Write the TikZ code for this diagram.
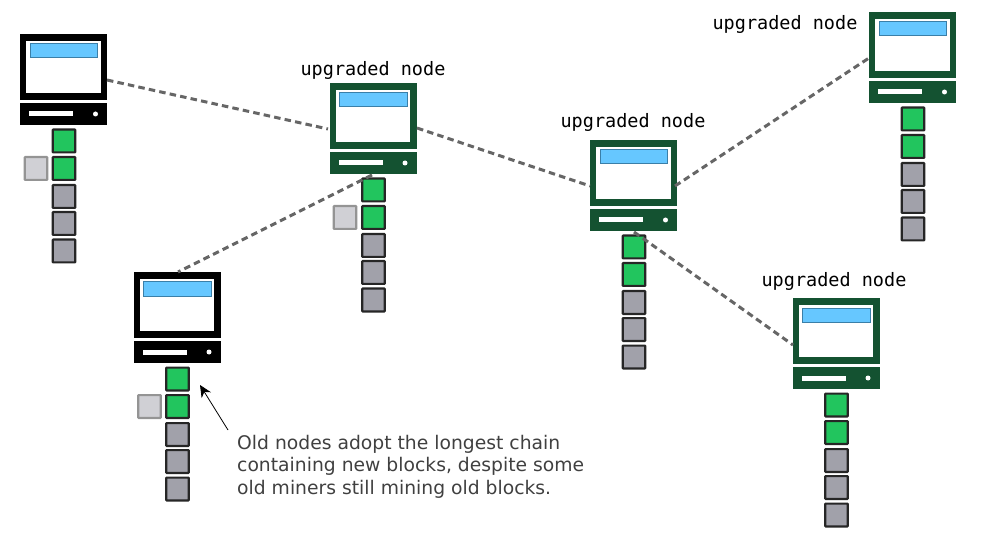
\documentclass[tikz,border=0pt]{standalone}
\usepackage{fontspec}
\usetikzlibrary{arrows.meta}
\setmainfont{DejaVu Sans}
\setmonofont{DejaVu Sans Mono}
\definecolor{upgreen}{HTML}{145231}
\definecolor{blockgreen}{HTML}{22C55E}
\definecolor{blockgray}{HTML}{A1A1AA}
\definecolor{sidegray}{HTML}{D0D0D5}
\definecolor{screenblue}{HTML}{66C7FF}
\definecolor{screenedge}{HTML}{3A7FA8}
\definecolor{linkgray}{HTML}{666666}
\definecolor{notegray}{HTML}{404040}
\tikzset{
  x=1pt,y=-1pt,
  monitorbox/.style={draw=none,fill=white,minimum width=74.5pt,minimum height=52pt,inner sep=0pt},
  screenbar/.style={draw=screenedge,fill=screenblue,line width=1pt,minimum width=67.5pt,minimum height=14pt,inner sep=0pt},
  basebox/.style={minimum width=87pt,minimum height=22pt,inner sep=0pt},
  slotbar/.style={fill=white,minimum width=44pt,minimum height=5pt,inner sep=0pt},
  ledspot/.style={circle,fill=white,minimum size=5pt,inner sep=0pt},
  blockbox/.style={draw=black!85,line width=2.2pt,minimum width=22.6pt,minimum height=22.8pt,inner sep=0pt,rounded corners=0.6pt},
  newblock/.style={blockbox,fill=blockgreen},
  oldblock/.style={blockbox,fill=blockgray},
  sideblock/.style={draw=black!42,line width=2.2pt,fill=sidegray,minimum width=22.6pt,minimum height=22.8pt,inner sep=0pt,rounded corners=0.6pt},
  link/.style={draw=linkgray,line width=3pt,dash pattern=on 6.5pt off 4.2pt},
  upcaption/.style={font=\fontsize{18.5pt}{20pt}\selectfont\ttfamily,inner sep=0pt,anchor=base,text=black},
  note/.style={font=\fontsize{18.75pt}{22.5pt}\selectfont,text=notegray,align=left,anchor=north west,inner sep=0pt},
}
% #1 name, #2 origin x, #3 origin y, #4 colour
\newcommand{\computer}[4]{%
  \node[fill=#4,minimum width=87pt,minimum height=66pt,inner sep=0pt] (#1mon) at (#2+43.5,#3+33) {};
  \node[monitorbox] (#1scr) at (#2+43.5,#3+33) {};
  \node[screenbar] (#1bar) at (#2+44,#3+17) {};
  \node[basebox,fill=#4] (#1base) at (#2+43.5,#3+80) {};
  \node[slotbar] (#1slot) at (#2+31,#3+80) {};
  \node[ledspot] (#1led) at (#2+75.5,#3+80) {};
  \node[newblock] (#1b1) at (#2+44,#3+107) {};
  \node[newblock] (#1b2) at (#2+44,#3+134.5) {};
  \node[oldblock] (#1b3) at (#2+44,#3+162.5) {};
  \node[oldblock] (#1b4) at (#2+44,#3+189.5) {};
  \node[oldblock] (#1b5) at (#2+44,#3+217) {};
}
\begin{document}
\begin{tikzpicture}
\useasboundingbox (0,0) rectangle (983,548);
\computer{a}{20}{34}{black}
\computer{b}{329.5}{83}{upgreen}
\computer{c}{590}{140}{upgreen}
\computer{d}{869}{12}{upgreen}
\computer{e}{792.5}{298}{upgreen}
\computer{f}{133.5}{272}{black}
\node[sideblock] (as) at (36,168.5) {};
\node[sideblock] (bs) at (345,217.5) {};
\node[sideblock] (fs) at (149.5,406.5) {};
\coordinate (ap) at (107,80);
\coordinate (bl) at (328,129);
\coordinate (br) at (417,128);
\coordinate (cl) at (590,186);
\coordinate (cr) at (675,186);
\coordinate (dl) at (869,58);
\coordinate (cb) at (634,232);
\coordinate (el) at (793,345);
\coordinate (bb) at (372,175);
\coordinate (ft) at (178,272);
\draw[link] (ap) -- (bl);
\draw[link] (br) -- (cl);
\draw[link] (cr) -- (dl);
\draw[link] (cb) -- (el);
\draw[link] (bb) -- (ft);
\node[upcaption] (lb) at (373,76) {upgraded node};
\node[upcaption] (lc) at (633,128) {upgraded node};
\node[upcaption] (ld) at (785,30) {upgraded node};
\node[upcaption] (le) at (834,287) {upgraded node};
\node[note] (nt) at (237,435) {Old nodes adopt the longest chain\\containing new blocks, despite some\\old miners still mining old blocks.};
\coordinate (ns) at (228,430);
\coordinate (nh) at (200,385);
\draw[-{Stealth[length=12pt,width=11pt]},line width=0.8pt,black] (ns) -- (nh);
\end{tikzpicture}
\end{document}
